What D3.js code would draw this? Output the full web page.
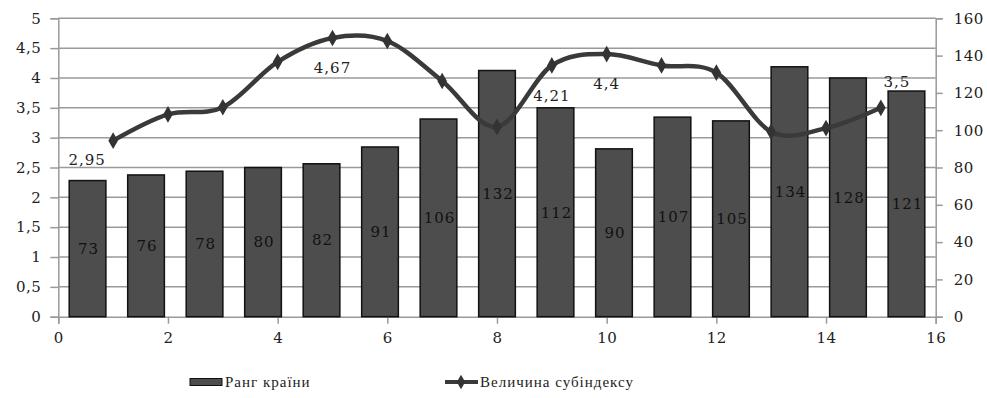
<!DOCTYPE html>
<html><head><meta charset="utf-8">
<script src="https://cdn.jsdelivr.net/npm/d3@7"></script>
<style>
body{margin:0;background:#fff;}
text{font-family:"DejaVu Serif","Liberation Serif",serif;fill:#222;}
text.leg{font-family:"Liberation Serif",serif;}
</style></head>
<body><svg id="c" width="987" height="398"></svg>
<script>
const rankValues = [73,76,78,80,82,91,106,132,112,90,107,105,134,128,121];
const subindexX = [1,2,3,4,5,6,7,8,9,10,11,12,13,14,15];
const subindexValues = [2.95,3.39,3.51,4.27,4.67,4.62,3.95,3.18,4.21,4.4,4.21,4.09,3.10,3.16,3.5];
const subindexLabels = ["2,95",null,null,null,"4,67",null,null,null,"4,21","4,4",null,null,null,null,"3,5"];
const labelPlacement = ["leftBelow",null,null,null,"below",null,null,null,"below","below",null,null,null,null,"aboveRight"];
const leftTicks = [0,0.5,1,1.5,2,2.5,3,3.5,4,4.5,5];
const rightTicks = [0,20,40,60,80,100,120,140,160];
const xTicks = [0,2,4,6,8,10,12,14,16];
const legendNames = ["Ранг країни","Величина субіндексу"];

const svg = d3.select("#c");
const L = 58.3, R = 935.7, T = 18.3, B = 316.7;
const x = d3.scaleLinear().domain([0,16]).range([L,R]);
const yL = d3.scaleLinear().domain([0,5]).range([B,T]);
const yR = d3.scaleLinear().domain([0,160]).range([B,T]);
const xb = d3.scaleBand().domain(d3.range(rankValues.length)).range([L,R]).paddingInner(0.373).paddingOuter(0.1865);
const fmt = v => String(v).replace(".", ",");
const gridColor = "#9a9a9a";

// gridlines
svg.append("g").selectAll("line").data(leftTicks.filter(d=>d>0)).join("line")
  .attr("x1",L).attr("x2",R).attr("y1",d=>yL(d)).attr("y2",d=>yL(d))
  .attr("stroke",gridColor).attr("stroke-width",1.5);

// left axis
const gl = svg.append("g").attr("transform",`translate(${L},0)`)
  .call(d3.axisLeft(yL).tickValues(leftTicks).tickFormat(fmt).tickSize(8).tickPadding(9));
// right axis
const gr = svg.append("g").attr("transform",`translate(${R},0)`)
  .call(d3.axisRight(yR).tickValues(rightTicks).tickSize(7).tickPadding(11));
// bottom axis
const gb = svg.append("g").attr("transform",`translate(0,${B})`)
  .call(d3.axisBottom(x).tickValues(xTicks).tickSize(7).tickPadding(9));
[gl,gr,gb].forEach(g=>{
  g.select(".domain").attr("stroke",gridColor).attr("stroke-width",1.5);
  g.selectAll(".tick line").attr("stroke",gridColor).attr("stroke-width",1.5);
  g.selectAll(".tick text").attr("font-size",15).attr("fill","#222").attr("letter-spacing","0.5px");
});

// bars
svg.append("g").selectAll("rect").data(rankValues).join("rect")
  .attr("x",(d,i)=>xb(i)).attr("width",xb.bandwidth())
  .attr("y",d=>yR(d)).attr("height",d=>B-yR(d))
  .attr("fill","#4d4d4d").attr("stroke","#111").attr("stroke-width",1.5);
svg.append("g").selectAll("text").data(rankValues).join("text")
  .attr("x",(d,i)=>xb(i)+xb.bandwidth()/2+1)
  .attr("y",d=>(yR(d)+B)/2)
  .attr("dy","0.35em").attr("text-anchor","middle")
  .attr("font-size",15).attr("letter-spacing","1px").style("fill","#111")
  .text(d=>d);

// line
const pts = subindexValues.map((v,i)=>[x(subindexX[i]), yL(v)]);
svg.append("path").attr("d", d3.line().curve(d3.curveCatmullRom.alpha(0))(pts))
  .attr("fill","none").attr("stroke","#3a3a3a").attr("stroke-width",4.5);
const diamond = d3.symbol().type(d3.symbolDiamond).size(80);
svg.append("g").selectAll("path").data(pts).join("path")
  .attr("transform",d=>`translate(${d[0]},${d[1]})`).attr("d",diamond)
  .attr("fill","#333");

// line labels
const off = {leftBelow:[-26,19], below:[0,30], aboveRight:[16,-26]};
svg.append("g").selectAll("text").data(subindexLabels.map((t,i)=>({t,i})).filter(d=>d.t)).join("text")
  .attr("x",d=>pts[d.i][0]+off[labelPlacement[d.i]][0])
  .attr("y",d=>pts[d.i][1]+off[labelPlacement[d.i]][1])
  .attr("dy","0.35em").attr("text-anchor","middle")
  .attr("font-size",15).attr("letter-spacing","1px")
  .text(d=>d.t);

// legend
const lg = svg.append("g");
lg.append("rect").attr("x",190).attr("y",378.5).attr("width",32).attr("height",7)
  .attr("fill","#4d4d4d").attr("stroke","#111").attr("stroke-width",1);
lg.append("text").attr("class","leg").attr("x",225).attr("y",382).attr("dy","0.35em")
  .attr("font-size",15).attr("letter-spacing","1px").text(legendNames[0]);
lg.append("line").attr("x1",445).attr("x2",478).attr("y1",382).attr("y2",382)
  .attr("stroke","#3a3a3a").attr("stroke-width",4);
lg.append("path").attr("transform","translate(461,382)").attr("d",d3.symbol().type(d3.symbolDiamond).size(60)).attr("fill","#333");
lg.append("text").attr("class","leg").attr("x",480).attr("y",382).attr("dy","0.35em")
  .attr("font-size",15).attr("letter-spacing","1px").text(legendNames[1]);
</script></body></html>
